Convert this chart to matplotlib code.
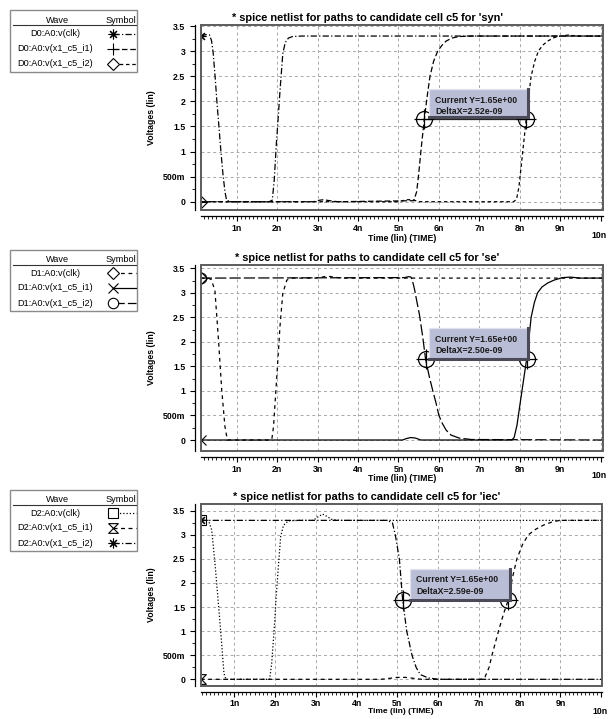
import matplotlib
matplotlib.use("Agg")
import matplotlib.pyplot as plt
from matplotlib.patches import Rectangle
from matplotlib.path import Path
from matplotlib.ticker import FixedLocator, MultipleLocator

plt.rcParams['font.family'] = ['Liberation Sans', 'DejaVu Sans']

# ---------------- data ----------------
titles = ["* spice netlist for paths to candidate cell c5 for 'syn'",
          "* spice netlist for paths to candidate cell c5 for 'se'",
          "* spice netlist for paths to candidate cell c5 for 'iec'"]
legend_names = [["D0:A0:v(clk)", "D0:A0:v(x1_c5_i1)", "D0:A0:v(x1_c5_i2)"],
                ["D1:A0:v(clk)", "D1:A0:v(x1_c5_i1)", "D1:A0:v(x1_c5_i2)"],
                ["D2:A0:v(clk)", "D2:A0:v(x1_c5_i1)", "D2:A0:v(x1_c5_i2)"]]
x_ticks = [1, 2, 3, 4, 5, 6, 7, 8, 9, 10]
x_tick_labels = ["1n", "2n", "3n", "4n", "5n", "6n", "7n", "8n", "9n", "10n"]
y_ticks = [0, 0.5, 1, 1.5, 2, 2.5, 3, 3.5]
y_tick_labels = ["0", "500m", "1", "1.5", "2", "2.5", "3", "3.5"]

# panel 1 'syn' (time in ns, voltage in V)
syn_clk_t = [0.11, 0.25, 0.33, 0.38, 0.42, 0.47, 0.51, 0.56, 0.61, 0.66, 0.71, 0.75, 0.85,
             1.0, 1.8, 1.88, 1.93, 1.98, 2.02, 2.07, 2.14, 2.2, 2.28, 2.38, 2.6, 10.05]
syn_clk_v = [3.3, 3.33, 3.32, 3.2, 2.95, 2.45, 2.0, 1.5, 1.0, 0.55, 0.2, 0.03, 0.0,
             0.0, 0.0, 0.03, 0.45, 1.15, 1.6, 2.2, 2.95, 3.17, 3.26, 3.29, 3.3, 3.3]
syn_i1_t = [0.11, 2.9, 3.05, 3.15, 3.3, 3.5, 5.38, 5.45, 5.5, 5.56, 5.64, 5.71, 5.78,
            5.87, 5.97, 6.08, 6.18, 6.32, 6.5, 6.8, 10.05]
syn_i1_v = [0.0, 0.0, 0.03, 0.04, 0.02, 0.0, 0.02, 0.2, 0.55, 1.05, 1.65, 2.1, 2.5,
            2.8, 3.0, 3.12, 3.2, 3.26, 3.29, 3.3, 3.3]
syn_i2_t = [0.11, 5.0, 5.2, 5.35, 5.5, 7.85, 7.92, 7.98, 8.04, 8.1, 8.16, 8.22, 8.28,
            8.37, 8.46, 8.57, 8.69, 8.85, 9.02, 9.2, 9.4, 10.05]
syn_i2_v = [0.0, 0.0, 0.04, 0.04, 0.0, 0.0, 0.05, 0.3, 0.75, 1.2, 1.65, 2.1, 2.5,
            2.8, 3.0, 3.12, 3.2, 3.27, 3.3, 3.32, 3.3, 3.3]

# panel 2 'se'
se_clk_t = [0.11, 0.3, 0.37, 0.42, 0.46, 0.55, 0.63, 0.71, 0.77, 0.9, 1.8, 1.87, 1.91,
            1.97, 2.01, 2.07, 2.14, 2.24, 2.36, 2.6, 2.95, 3.1, 3.25, 3.4, 3.6, 10.05]
se_clk_v = [3.3, 3.3, 3.27, 3.15, 3.06, 2.04, 1.02, 0.27, 0.0, 0.0, 0.0, 0.02, 0.27,
            1.02, 1.53, 2.31, 2.99, 3.26, 3.3, 3.3, 3.3, 3.32, 3.34, 3.32, 3.3, 3.3]
se_i1_t = [0.11, 5.1, 5.2, 5.3, 5.42, 5.55, 7.8, 7.86, 7.93, 8.0, 8.08, 8.17, 8.23,
           8.28, 8.36, 8.44, 8.55, 8.69, 8.85, 9.06, 9.25, 9.5, 10.05]
se_i1_v = [0.0, 0.0, 0.03, 0.05, 0.04, 0.0, 0.0, 0.05, 0.3, 0.7, 1.15, 1.65, 2.1,
           2.5, 2.8, 3.0, 3.12, 3.2, 3.26, 3.31, 3.32, 3.3, 3.3]
se_i2_t = [0.11, 5.15, 5.25, 5.31, 5.36, 5.40, 5.46, 5.52, 5.6, 5.67, 5.76, 5.85, 5.93,
           6.0, 6.09, 6.18, 6.3, 6.5, 6.8, 10.05]
se_i2_v = [3.3, 3.31, 3.33, 3.32, 3.2, 3.06, 2.8, 2.55, 2.1, 1.65, 1.3, 1.0, 0.75,
           0.5, 0.33, 0.2, 0.1, 0.04, 0.01, 0.0]

# panel 3 'iec'
iec_clk_t = [0.18, 0.3, 0.37, 0.45, 0.53, 0.62, 0.70, 0.75, 0.80, 1.0, 1.8, 1.87, 1.92,
             1.98, 2.03, 2.09, 2.14, 2.21, 2.33, 2.6, 2.94, 3.05, 3.17, 3.28, 3.39, 3.6, 10.01]
iec_clk_v = [3.3, 3.3, 3.3, 3.1, 2.41, 1.51, 0.68, 0.12, 0.0, 0.0, 0.0, 0.0, 0.33,
             1.02, 1.71, 2.41, 2.96, 3.2, 3.29, 3.3, 3.3, 3.37, 3.43, 3.38, 3.32, 3.3, 3.3]
iec_i1_t = [0.18, 4.6, 4.8, 5.0, 5.2, 5.4, 5.6, 7.05, 7.15, 7.25, 7.32, 7.4, 7.48, 7.6,
            7.72, 7.82, 7.93, 8.07, 8.21, 8.4, 8.58, 8.8, 8.99, 10.01]
iec_i1_v = [0.0, 0.0, 0.02, 0.04, 0.04, 0.02, 0.0, 0.0, 0.05, 0.25, 0.5, 0.75, 1.0, 1.35,
            1.65, 2.1, 2.5, 2.8, 3.0, 3.12, 3.2, 3.27, 3.3, 3.3]
iec_i2_t = [0.18, 4.75, 4.88, 4.95, 5.05, 5.13, 5.23, 5.36, 5.46, 5.56, 5.75, 6.0, 10.01]
iec_i2_v = [3.3, 3.3, 3.25, 3.0, 2.5, 1.65, 1.0, 0.5, 0.25, 0.1, 0.03, 0.0, 0.0]

cursor_y = [1.65, 1.65, 1.65]
cursor_x1 = [5.64, 5.67, 5.13]
cursor_x2 = [8.16, 8.17, 7.72]
cursor_line1 = ["Current Y=1.65e+00", "Current Y=1.65e+00", "Current Y=1.65e+00"]
cursor_line2 = ["DeltaX=2.52e-09", "DeltaX=2.50e-09", "DeltaX=2.59e-09"]

series = [[(syn_clk_t, syn_clk_v), (syn_i1_t, syn_i1_v), (syn_i2_t, syn_i2_v)],
          [(se_clk_t, se_clk_v), (se_i1_t, se_i1_v), (se_i2_t, se_i2_v)],
          [(iec_clk_t, iec_clk_v), (iec_i1_t, iec_i1_v), (iec_i2_t, iec_i2_v)]]

# ---------------- layout / styles ----------------
W, H = 610, 719
AX_PX = [(200.7, 25, 602.7, 210), (200.7, 265, 602.7, 450.7), (200.7, 504, 601.7, 686)]
XLIM = [(0.11, 10.05), (0.11, 10.05), (0.18, 10.01)]
YLIM = [(-0.165, 3.52), (-0.218, 3.567), (-0.139, 3.64)]
LEG_TOP = [10, 249.5, 489.5]
BOX = [(5.76, 8.20, 1.69, 2.25), (5.76, 8.21, 1.65, 2.28), (5.31, 7.76, 1.65, 2.30)]
XLABEL_PAD = [0.5, 0.5, 0.0]
XLABEL_FS = [6.3, 6.3, 6.0]
XTICK_PAD = [2, 2, 1.5]

ASTER = (8, 2, 0)
HOURGLASS = Path([(-1, 1), (1, 1), (-1, -1), (1, -1), (-1, 1)])
DASHDOT = (0, (5, 1.8, 1, 1.8))
STYLES = [
    [dict(ls=DASHDOT, marker=ASTER, ms=7), dict(ls=(0, (4.5, 2.2)), marker='+', ms=8),
     dict(ls=(0, (2.8, 2.2)), marker='D', ms=6.5)],
    [dict(ls=(0, (3, 3)), marker='D', ms=6.5), dict(ls='-', marker='x', ms=7),
     dict(ls=(0, (9, 2.5)), marker='o', ms=7.5)],
    [dict(ls=(0, (1, 1.6)), marker='s', ms=7), dict(ls=(0, (3.2, 2.8)), marker=HOURGLASS, ms=7),
     dict(ls=DASHDOT, marker=ASTER, ms=7)],
]

fig = plt.figure(figsize=(W / 100, H / 100), dpi=100)
fig.patch.set_facecolor('white')

TICK_FS = 6.3
LEG_FS = 6.6
for i in range(3):
    l, t, r, b = AX_PX[i]
    ax = fig.add_axes([l / W, 1 - b / H, (r - l) / W, (b - t) / H])
    ax.set_xlim(*XLIM[i])
    ax.set_ylim(*YLIM[i])
    ax.set_facecolor('white')

    for (tt, vv), st in zip(series[i], STYLES[i]):
        ax.plot(tt, vv, color='black', lw=0.9, linestyle=st['ls'], marker=st['marker'],
                markevery=[0], ms=st['ms'], mfc='none', mec='black', mew=0.8, zorder=3)

    # grid and frame
    ax.grid(True, which='major', color='#a8a8a8', linestyle=(0, (3, 3)), lw=0.7)
    ax.set_axisbelow(True)
    ax.add_patch(Rectangle((0, 0), 1, 1, transform=ax.transAxes, fill=False,
                           ec='#5c5c5c', lw=1.4, clip_on=False, zorder=9))
    for s in ('top', 'right'):
        ax.spines[s].set_visible(False)
    for s in ('left', 'bottom'):
        ax.spines[s].set_position(('outward', 4.3))
        ax.spines[s].set_linewidth(0.9)

    ax.xaxis.set_major_locator(FixedLocator(x_ticks))
    ax.set_xticklabels(x_tick_labels[:-1] + [""], fontsize=TICK_FS, fontweight='bold')
    ax.xaxis.set_minor_locator(MultipleLocator(0.1))
    ax.yaxis.set_major_locator(FixedLocator(y_ticks))
    ax.set_yticklabels(y_tick_labels, fontsize=TICK_FS, fontweight='bold')
    ax.yaxis.set_minor_locator(MultipleLocator(0.25))
    ax.tick_params(which='major', direction='out', length=3.8, width=0.8)
    ax.tick_params(which='minor', direction='out', length=2.2, width=0.6)
    ax.tick_params(axis='x', which='major', pad=XTICK_PAD[i])
    ax.tick_params(axis='y', which='major', pad=3)
    ax.annotate(x_tick_labels[-1], xy=(10, 0), xycoords=('data', 'axes fraction'),
                xytext=(-1, -18), textcoords='offset points', ha='center', va='center',
                fontsize=TICK_FS, fontweight='bold')

    ax.set_title(titles[i], fontsize=7.9, fontweight='bold', pad=3, x=0.415)
    ax.set_xlabel('Time (lin) (TIME)', fontsize=XLABEL_FS[i], fontweight='bold',
                  labelpad=XLABEL_PAD[i])
    ax.set_ylabel('Voltages (lin)', fontsize=TICK_FS, fontweight='bold', labelpad=5)

    # cursor measurement
    cy, x1, x2 = cursor_y[i], cursor_x1[i], cursor_x2[i]
    ax.plot([x1, x2], [cy, cy], color='#222222', lw=0.9, zorder=4)
    ax.plot([x1, x2], [cy, cy], ls='none', marker='o', ms=11.5, mfc='none', mec='black',
            mew=0.9, zorder=4)
    ax.plot([x1, x2], [cy, cy], ls='none', marker='+', ms=14.5, mec='black', mew=0.9, zorder=4)

    bx0, bx1, by0, by1 = BOX[i]
    ax.add_patch(Rectangle((bx0, by0), bx1 - bx0, by1 - by0, fc='#babdd6', ec='none', zorder=6))
    ax.plot([bx0, bx0, bx1], [by0, by1, by1], color='#e2e3ee', lw=0.9, zorder=7)
    ax.plot([bx0, bx1, bx1], [by0, by0, by1], color='#4a4a58', lw=2.2, zorder=7,
            solid_joinstyle='miter')
    ax.annotate(cursor_line1[i], xy=(bx0, by1), xytext=(4.3, -8.1), textcoords='offset points',
                ha='left', va='center', fontsize=TICK_FS, fontweight='bold', color='#1a1a1a',
                zorder=8)
    ax.annotate(cursor_line2[i], xy=(bx0, by1), xytext=(4.3, -16.3), textcoords='offset points',
                ha='left', va='center', fontsize=TICK_FS, fontweight='bold', color='#1a1a1a',
                zorder=8)

    # legend table
    lw_, lh_ = 126.7, 61.7
    top = LEG_TOP[i]
    lax = fig.add_axes([10 / W, 1 - (top + lh_) / H, lw_ / W, lh_ / H])
    lax.set_xlim(0, lw_)
    lax.set_ylim(lh_, 0)
    lax.axis('off')
    lax.add_patch(Rectangle((0, 0), lw_, lh_, fill=False, ec='#8a8a8a', lw=1.0, clip_on=False))
    lax.text(47.5, 10.5, 'Wave', ha='center', va='center', fontsize=LEG_FS)
    lax.text(110.5, 10.5, 'Symbol', ha='center', va='center', fontsize=LEG_FS)
    lax.plot([2.7, lw_], [15, 15], color='#333333', lw=0.8)
    for k, (name, st) in enumerate(zip(legend_names[i], STYLES[i])):
        y = 23.5 + 15 * k
        lax.text(45.5, y, name, ha='center', va='center', fontsize=LEG_FS)
        lax.plot([103.3, 125.5], [y, y], color='black', lw=0.9, linestyle=st['ls'])
        lax.plot([103.3], [y], ls='none', marker=st['marker'], ms=st['ms'], mfc='white',
                 mec='black', mew=0.8)

fig.savefig('out.png', dpi=100)
